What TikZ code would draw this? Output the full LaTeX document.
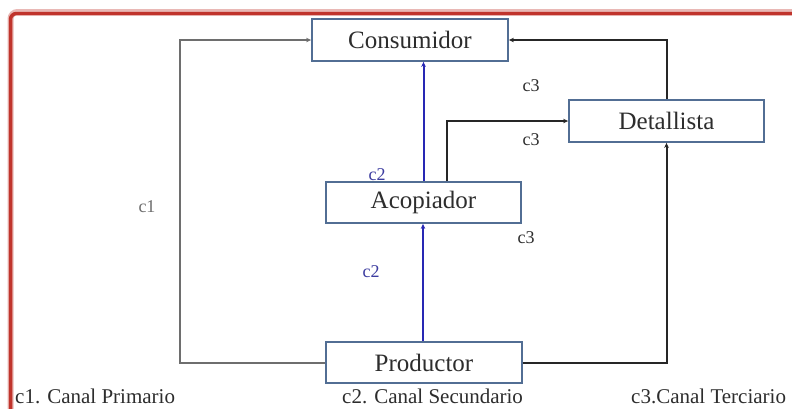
\documentclass[tikz,border=0pt]{standalone}
\usepackage{fontspec}
\setmainfont{Liberation Serif}
\usetikzlibrary{arrows.meta}
\definecolor{framered}{RGB}{192,52,44}
\definecolor{boxedge}{RGB}{82,110,148}
\definecolor{txt}{RGB}{45,45,45}
\definecolor{chanblue}{RGB}{40,40,180}
\definecolor{labblue}{RGB}{60,60,160}
\definecolor{chgray}{RGB}{110,110,110}
\tikzset{
  box/.style={draw=boxedge, line width=1.8pt, fill=white, text=txt,
    minimum width=195pt, minimum height=41pt, inner sep=0pt,
    font=\fontsize{25}{30}\selectfont},
  lab/.style={text=txt, inner sep=0pt, font=\fontsize{18}{20}\selectfont},
  legend/.style={text=txt, inner sep=0pt, anchor=west, font=\fontsize{21}{24}\selectfont},
  tip/.style={-{Stealth[length=5pt,width=4.5pt]}},
  conn/.style={line width=2pt, tip},
}
\begin{document}
\begin{tikzpicture}[x=1pt,y=-1pt]
\useasboundingbox (0,0) rectangle (792,408);
\fill[white] (0,0) rectangle (792,408);
% frame
\draw[framered!35, line width=6pt, rounded corners=7pt] (10.5,420) -- (10.5,12) -- (800,12);
\draw[framered, line width=3.5pt, rounded corners=6pt] (10.5,420) -- (10.5,13.5) -- (800,13.5);
% boxes
\node[box, minimum width=196pt, minimum height=42pt] (cons) at (410,40) {Consumidor};
\node[box, minimum height=42pt] (det) at (666.5,121) {Detallista};
\node[box] (acop) at (423.5,202.5) {Acopiador};
\node[box, minimum width=196pt] (prod) at (424,362.5) {Productor};
\coordinate (c1x) at (180,0);
% connectors
\draw[conn, chgray] (prod.west) -- (prod.west -| c1x) |- (cons.west);
\draw[conn, chanblue] ([xshift=-1pt]prod.north) -- ([xshift=-1pt]prod.north |- acop.south);
\draw[conn, chanblue] (acop.north) -- (acop.north |- cons.south);
\draw[conn, black!85] ([xshift=23.5pt]acop.north) |- (det.west);
\draw[conn, black!85] (det.north) |- (cons.east);
\draw[conn, black!85] (prod.east) -| (det.south);
% labels
\node[lab] (l3a) at (531,86) {c3};
\node[lab] (l3b) at (531,140) {c3};
\node[lab] (l3c) at (526,238) {c3};
\node[lab, text=labblue] (l2a) at (377,175) {c2};
\node[lab, text=labblue] (l2b) at (371,272) {c2};
\node[lab, text=chgray] (l1) at (147,207) {c1};
% legend
\node[legend] (g1) at (15,396) {c1. Canal Primario};
\node[legend] (g2) at (342,396) {c2. Canal Secundario};
\node[legend] (g3) at (631,396) {c3.Canal Terciario};
\end{tikzpicture}
\end{document}
